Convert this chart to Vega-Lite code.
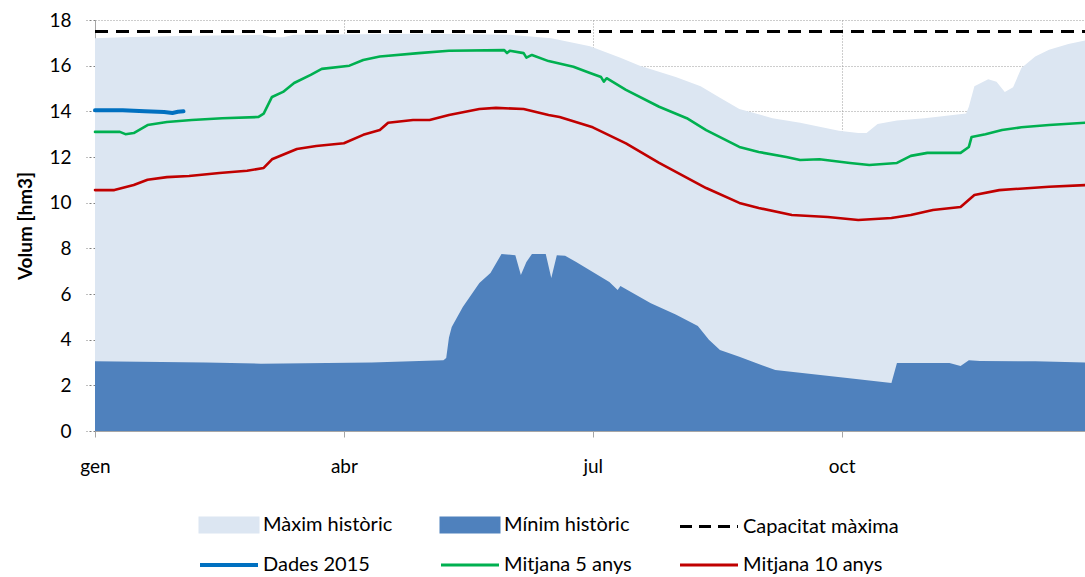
{
  "$schema": "https://vega.github.io/schema/vega-lite/v6.json",
  "width": 990,
  "height": 411,
  "autosize": {"type": "none"},
  "padding": {"left": 95, "top": 20, "right": 0, "bottom": 146},
  "background": "white",
  "config": {
    "view": {"stroke": null},
    "font": "Lato",
    "axis": {"labelFont": "Lato", "titleFont": "Lato", "labelColor": "black", "titleColor": "black"}
  },
  "data": {
    "values": [
      {"series": "Màxim històric", "day": 0, "value": 17.2},
      {"series": "Màxim històric", "day": 10, "value": 17.25},
      {"series": "Màxim històric", "day": 30, "value": 17.3},
      {"series": "Màxim històric", "day": 60, "value": 17.35},
      {"series": "Màxim històric", "day": 64, "value": 17.25},
      {"series": "Màxim històric", "day": 68, "value": 17.25},
      {"series": "Màxim històric", "day": 72, "value": 17.35},
      {"series": "Màxim històric", "day": 120, "value": 17.4},
      {"series": "Màxim històric", "day": 150, "value": 17.35},
      {"series": "Màxim històric", "day": 165, "value": 17.2},
      {"series": "Màxim històric", "day": 179, "value": 16.85},
      {"series": "Màxim històric", "day": 190, "value": 16.35},
      {"series": "Màxim històric", "day": 197, "value": 16.0},
      {"series": "Màxim històric", "day": 210, "value": 15.5},
      {"series": "Màxim històric", "day": 219, "value": 15.1},
      {"series": "Màxim històric", "day": 226, "value": 14.6},
      {"series": "Màxim històric", "day": 233, "value": 14.1},
      {"series": "Màxim històric", "day": 245, "value": 13.7},
      {"series": "Màxim històric", "day": 255, "value": 13.5},
      {"series": "Màxim històric", "day": 269, "value": 13.15},
      {"series": "Màxim històric", "day": 276, "value": 13.05},
      {"series": "Màxim històric", "day": 279, "value": 13.05},
      {"series": "Màxim històric", "day": 283, "value": 13.45},
      {"series": "Màxim històric", "day": 290, "value": 13.6},
      {"series": "Màxim històric", "day": 300, "value": 13.7},
      {"series": "Màxim històric", "day": 315, "value": 13.9},
      {"series": "Màxim històric", "day": 316, "value": 14.2},
      {"series": "Màxim històric", "day": 318, "value": 15.1},
      {"series": "Màxim històric", "day": 323, "value": 15.4},
      {"series": "Màxim històric", "day": 326, "value": 15.3},
      {"series": "Màxim històric", "day": 329, "value": 14.85},
      {"series": "Màxim històric", "day": 332, "value": 15.05},
      {"series": "Màxim històric", "day": 335, "value": 15.9},
      {"series": "Màxim històric", "day": 340, "value": 16.4},
      {"series": "Màxim històric", "day": 345, "value": 16.7},
      {"series": "Màxim històric", "day": 352, "value": 16.95},
      {"series": "Màxim històric", "day": 358, "value": 17.1},

      {"series": "Mínim històric", "day": 0, "value": 3.05},
      {"series": "Mínim històric", "day": 40, "value": 3.0},
      {"series": "Mínim històric", "day": 60, "value": 2.95},
      {"series": "Mínim històric", "day": 100, "value": 3.0},
      {"series": "Mínim històric", "day": 126, "value": 3.1},
      {"series": "Mínim històric", "day": 127, "value": 3.2},
      {"series": "Mínim històric", "day": 128, "value": 4.1},
      {"series": "Mínim històric", "day": 129, "value": 4.55},
      {"series": "Mínim històric", "day": 133, "value": 5.43},
      {"series": "Mínim històric", "day": 139, "value": 6.48},
      {"series": "Mínim històric", "day": 143, "value": 6.92},
      {"series": "Mínim històric", "day": 147, "value": 7.75},
      {"series": "Mínim històric", "day": 152, "value": 7.7},
      {"series": "Mínim històric", "day": 154, "value": 6.83},
      {"series": "Mínim històric", "day": 156, "value": 7.4},
      {"series": "Mínim històric", "day": 158, "value": 7.75},
      {"series": "Mínim històric", "day": 163, "value": 7.75},
      {"series": "Mínim històric", "day": 165, "value": 6.7},
      {"series": "Mínim històric", "day": 167, "value": 7.7},
      {"series": "Mínim històric", "day": 170, "value": 7.67},
      {"series": "Mínim històric", "day": 174, "value": 7.4},
      {"series": "Mínim històric", "day": 186, "value": 6.53},
      {"series": "Mínim històric", "day": 189, "value": 6.18},
      {"series": "Mínim històric", "day": 190, "value": 6.35},
      {"series": "Mínim històric", "day": 201, "value": 5.6},
      {"series": "Mínim històric", "day": 210, "value": 5.1},
      {"series": "Mínim històric", "day": 218, "value": 4.6},
      {"series": "Mínim històric", "day": 222, "value": 4.0},
      {"series": "Mínim històric", "day": 226, "value": 3.55},
      {"series": "Mínim històric", "day": 233, "value": 3.25},
      {"series": "Mínim històric", "day": 246, "value": 2.67},
      {"series": "Mínim històric", "day": 259, "value": 2.5},
      {"series": "Mínim històric", "day": 272, "value": 2.32},
      {"series": "Mínim històric", "day": 288, "value": 2.1},
      {"series": "Mínim històric", "day": 290, "value": 2.98},
      {"series": "Mínim històric", "day": 309, "value": 2.98},
      {"series": "Mínim històric", "day": 313, "value": 2.85},
      {"series": "Mínim històric", "day": 316, "value": 3.1},
      {"series": "Mínim històric", "day": 320, "value": 3.07},
      {"series": "Mínim històric", "day": 340, "value": 3.05},
      {"series": "Mínim històric", "day": 358, "value": 3.0},

      {"series": "Capacitat màxima", "day": 0, "value": 17.5},
      {"series": "Capacitat màxima", "day": 358, "value": 17.5},

      {"series": "Dades 2015", "day": 0, "value": 14.05},
      {"series": "Dades 2015", "day": 10, "value": 14.05},
      {"series": "Dades 2015", "day": 18, "value": 14.0},
      {"series": "Dades 2015", "day": 25, "value": 13.97},
      {"series": "Dades 2015", "day": 28, "value": 13.93},
      {"series": "Dades 2015", "day": 30, "value": 13.98},
      {"series": "Dades 2015", "day": 32, "value": 14.0},

      {"series": "Mitjana 5 anys", "day": 0, "value": 13.1},
      {"series": "Mitjana 5 anys", "day": 9, "value": 13.1},
      {"series": "Mitjana 5 anys", "day": 11, "value": 13.0},
      {"series": "Mitjana 5 anys", "day": 14, "value": 13.05},
      {"series": "Mitjana 5 anys", "day": 19, "value": 13.4},
      {"series": "Mitjana 5 anys", "day": 26, "value": 13.53},
      {"series": "Mitjana 5 anys", "day": 35, "value": 13.62},
      {"series": "Mitjana 5 anys", "day": 46, "value": 13.7},
      {"series": "Mitjana 5 anys", "day": 59, "value": 13.75},
      {"series": "Mitjana 5 anys", "day": 61, "value": 13.9},
      {"series": "Mitjana 5 anys", "day": 64, "value": 14.63},
      {"series": "Mitjana 5 anys", "day": 68, "value": 14.85},
      {"series": "Mitjana 5 anys", "day": 72, "value": 15.24},
      {"series": "Mitjana 5 anys", "day": 78, "value": 15.6},
      {"series": "Mitjana 5 anys", "day": 82, "value": 15.86},
      {"series": "Mitjana 5 anys", "day": 92, "value": 16.0},
      {"series": "Mitjana 5 anys", "day": 97, "value": 16.25},
      {"series": "Mitjana 5 anys", "day": 103, "value": 16.4},
      {"series": "Mitjana 5 anys", "day": 117, "value": 16.55},
      {"series": "Mitjana 5 anys", "day": 128, "value": 16.65},
      {"series": "Mitjana 5 anys", "day": 148, "value": 16.68},
      {"series": "Mitjana 5 anys", "day": 149, "value": 16.55},
      {"series": "Mitjana 5 anys", "day": 150, "value": 16.65},
      {"series": "Mitjana 5 anys", "day": 155, "value": 16.55},
      {"series": "Mitjana 5 anys", "day": 156, "value": 16.35},
      {"series": "Mitjana 5 anys", "day": 158, "value": 16.47},
      {"series": "Mitjana 5 anys", "day": 164, "value": 16.2},
      {"series": "Mitjana 5 anys", "day": 173, "value": 15.95},
      {"series": "Mitjana 5 anys", "day": 179, "value": 15.68},
      {"series": "Mitjana 5 anys", "day": 183, "value": 15.5},
      {"series": "Mitjana 5 anys", "day": 184, "value": 15.3},
      {"series": "Mitjana 5 anys", "day": 185, "value": 15.45},
      {"series": "Mitjana 5 anys", "day": 192, "value": 14.94},
      {"series": "Mitjana 5 anys", "day": 204, "value": 14.2},
      {"series": "Mitjana 5 anys", "day": 214, "value": 13.7},
      {"series": "Mitjana 5 anys", "day": 221, "value": 13.18},
      {"series": "Mitjana 5 anys", "day": 233, "value": 12.44},
      {"series": "Mitjana 5 anys", "day": 240, "value": 12.22},
      {"series": "Mitjana 5 anys", "day": 250, "value": 12.0},
      {"series": "Mitjana 5 anys", "day": 255, "value": 11.87},
      {"series": "Mitjana 5 anys", "day": 262, "value": 11.9},
      {"series": "Mitjana 5 anys", "day": 273, "value": 11.74},
      {"series": "Mitjana 5 anys", "day": 280, "value": 11.65},
      {"series": "Mitjana 5 anys", "day": 290, "value": 11.74},
      {"series": "Mitjana 5 anys", "day": 295, "value": 12.05},
      {"series": "Mitjana 5 anys", "day": 301, "value": 12.18},
      {"series": "Mitjana 5 anys", "day": 313, "value": 12.18},
      {"series": "Mitjana 5 anys", "day": 316, "value": 12.44},
      {"series": "Mitjana 5 anys", "day": 317, "value": 12.88},
      {"series": "Mitjana 5 anys", "day": 322, "value": 13.0},
      {"series": "Mitjana 5 anys", "day": 328, "value": 13.18},
      {"series": "Mitjana 5 anys", "day": 335, "value": 13.3},
      {"series": "Mitjana 5 anys", "day": 345, "value": 13.4},
      {"series": "Mitjana 5 anys", "day": 358, "value": 13.5},

      {"series": "Mitjana 10 anys", "day": 0, "value": 10.55},
      {"series": "Mitjana 10 anys", "day": 7, "value": 10.55},
      {"series": "Mitjana 10 anys", "day": 14, "value": 10.77},
      {"series": "Mitjana 10 anys", "day": 19, "value": 11.0},
      {"series": "Mitjana 10 anys", "day": 26, "value": 11.12},
      {"series": "Mitjana 10 anys", "day": 34, "value": 11.17},
      {"series": "Mitjana 10 anys", "day": 45, "value": 11.3},
      {"series": "Mitjana 10 anys", "day": 55, "value": 11.4},
      {"series": "Mitjana 10 anys", "day": 61, "value": 11.52},
      {"series": "Mitjana 10 anys", "day": 64, "value": 11.9},
      {"series": "Mitjana 10 anys", "day": 73, "value": 12.35},
      {"series": "Mitjana 10 anys", "day": 80, "value": 12.48},
      {"series": "Mitjana 10 anys", "day": 90, "value": 12.6},
      {"series": "Mitjana 10 anys", "day": 97, "value": 12.97},
      {"series": "Mitjana 10 anys", "day": 103, "value": 13.18},
      {"series": "Mitjana 10 anys", "day": 106, "value": 13.5},
      {"series": "Mitjana 10 anys", "day": 115, "value": 13.62},
      {"series": "Mitjana 10 anys", "day": 121, "value": 13.62},
      {"series": "Mitjana 10 anys", "day": 128, "value": 13.84},
      {"series": "Mitjana 10 anys", "day": 139, "value": 14.1},
      {"series": "Mitjana 10 anys", "day": 145, "value": 14.15},
      {"series": "Mitjana 10 anys", "day": 155, "value": 14.1},
      {"series": "Mitjana 10 anys", "day": 164, "value": 13.84},
      {"series": "Mitjana 10 anys", "day": 168, "value": 13.75},
      {"series": "Mitjana 10 anys", "day": 180, "value": 13.3},
      {"series": "Mitjana 10 anys", "day": 192, "value": 12.6},
      {"series": "Mitjana 10 anys", "day": 204, "value": 11.74},
      {"series": "Mitjana 10 anys", "day": 221, "value": 10.64},
      {"series": "Mitjana 10 anys", "day": 233, "value": 9.99},
      {"series": "Mitjana 10 anys", "day": 240, "value": 9.77},
      {"series": "Mitjana 10 anys", "day": 252, "value": 9.46},
      {"series": "Mitjana 10 anys", "day": 265, "value": 9.37},
      {"series": "Mitjana 10 anys", "day": 276, "value": 9.24},
      {"series": "Mitjana 10 anys", "day": 288, "value": 9.33},
      {"series": "Mitjana 10 anys", "day": 295, "value": 9.46},
      {"series": "Mitjana 10 anys", "day": 303, "value": 9.68},
      {"series": "Mitjana 10 anys", "day": 313, "value": 9.81},
      {"series": "Mitjana 10 anys", "day": 318, "value": 10.34},
      {"series": "Mitjana 10 anys", "day": 327, "value": 10.55},
      {"series": "Mitjana 10 anys", "day": 345, "value": 10.7},
      {"series": "Mitjana 10 anys", "day": 358, "value": 10.77}
    ]
  },
  "encoding": {
    "x": {
      "field": "day", "type": "quantitative",
      "scale": {"domain": [0, 358], "nice": false, "zero": false},
      "axis": {
        "title": null,
        "values": [0, 90, 180, 270],
        "labelExpr": "datum.value == 0 ? 'gen' : datum.value == 90 ? 'abr' : datum.value == 180 ? 'jul' : 'oct'",
        "grid": true, "gridDash": [1, 2], "gridColor": "#9a9a9a", "gridWidth": 1,
        "domainColor": "#a6a6a6", "tickColor": "#a6a6a6", "tickSize": 6,
        "labelPadding": 20, "labelFontSize": 19, "labelFlush": false
      }
    },
    "y": {
      "field": "value", "type": "quantitative",
      "scale": {"domain": [0, 18], "nice": false},
      "axis": {
        "title": "Volum [hm3]",
        "values": [0, 2, 4, 6, 8, 10, 12, 14, 16, 18],
        "grid": true, "gridDash": [1, 2], "gridColor": "#9a9a9a", "gridWidth": 1,
        "domainColor": "#a6a6a6", "tickColor": "#808080", "tickDash": [2, 2], "tickSize": 9,
        "labelPadding": 15, "labelFontSize": 19,
        "titleFontSize": 19, "titleFontWeight": "bold", "titlePadding": 13
      }
    },
    "color": {
      "field": "series", "type": "nominal",
      "scale": {
        "domain": ["Màxim històric", "Mínim històric", "Capacitat màxima", "Dades 2015", "Mitjana 5 anys", "Mitjana 10 anys"],
        "range": ["#dce6f2", "#4f81bd", "#000000", "#0070c0", "#00b050", "#c00000"]
      },
      "legend": {
        "orient": "none", "legendX": 105, "legendY": 495,
        "direction": "horizontal", "columns": 3, "title": null,
        "symbolSize": 400, "labelOffset": 43, "columnPadding": 42, "rowPadding": 17,
        "labelFont": "Lato", "labelFontSize": 20, "labelColor": "black", "labelLimit": 400, "padding": 0,
        "encode": {
          "symbols": {
            "update": {
              "shape": {"signal": "(datum.value == 'Màxim històric' || datum.value == 'Mínim històric') ? 'M-1,-0.7L4.8,-0.7L4.8,0.7L-1,0.7Z' : 'M-1,0L4.8,0'"},
              "fill": {"signal": "datum.value == 'Màxim històric' ? '#dce6f2' : datum.value == 'Mínim històric' ? '#4f81bd' : 'transparent'"},
              "stroke": {"signal": "datum.value == 'Capacitat màxima' ? '#000000' : datum.value == 'Dades 2015' ? '#0070c0' : datum.value == 'Mitjana 5 anys' ? '#00b050' : datum.value == 'Mitjana 10 anys' ? '#c00000' : 'transparent'"},
              "strokeWidth": {"signal": "datum.value == 'Dades 2015' ? 4 : 3"},
              "strokeDash": {"signal": "datum.value == 'Capacitat màxima' ? [12, 7] : [1000, 0]"},
              "opacity": {"value": 1},
              "fillOpacity": {"value": 1},
              "strokeOpacity": {"value": 1}
            }
          }
        }
      }
    }
  },
  "layer": [
    {
      "transform": [{"filter": "datum.series == 'Màxim històric'"}],
      "mark": {"type": "area", "opacity": 1, "interpolate": "linear"}
    },
    {
      "transform": [{"filter": "datum.series == 'Mínim històric'"}],
      "mark": {"type": "area", "opacity": 1, "interpolate": "linear"}
    },
    {
      "transform": [{"filter": "datum.series == 'Capacitat màxima'"}],
      "mark": {"type": "line", "strokeDash": [13, 8], "strokeWidth": 3}
    },
    {
      "transform": [{"filter": "datum.series == 'Mitjana 5 anys' || datum.series == 'Mitjana 10 anys' || datum.series == 'Dades 2015'"}],
      "mark": {"type": "line", "strokeJoin": "round", "strokeCap": "round"},
      "encoding": {
        "strokeWidth": {"condition": {"test": "datum.series == 'Dades 2015'", "value": 4}, "value": 2.6}
      }
    }
  ]
}
